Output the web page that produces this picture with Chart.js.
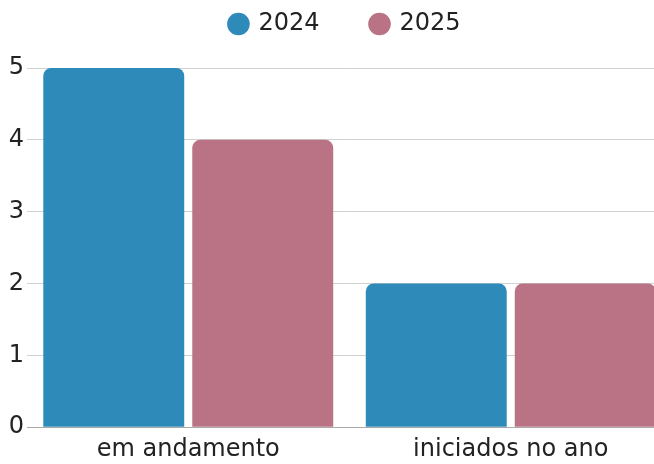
<!DOCTYPE html>
<html>
<head>
<meta charset="utf-8">
<script src="https://cdn.jsdelivr.net/npm/chart.js@4"></script>
<style>
  html, body { margin: 0; padding: 0; background: #fff; overflow: hidden; }
  #wrap { width: 672px; height: 464px; }
</style>
</head>
<body>
<div id="wrap"><canvas id="barChart" width="672" height="464"></canvas></div>
<script>
const categories = ['em andamento', 'iniciados no ano'];
const values2024 = [5, 2];
const values2025 = [4, 2];
const yTicks = [0, 1, 2, 3, 4, 5];

// push the plot down below the legend, nudge the legend right
const legendSpacing = {
    id: 'legendSpacing',
    beforeInit(chart) {
        const fit = chart.legend.fit;
        chart.legend.fit = function () {
            fit.call(this);
            this.height = 108;
        };
    },
    afterLayout(chart) {
        chart.legend.left += 19;
    }
};

document.addEventListener('DOMContentLoaded', () => {
    renderChart();
});

function renderChart() {
    const ctx = document.getElementById('barChart').getContext('2d');
    Chart.defaults.font.family = '"DejaVu Sans", sans-serif';
    Chart.defaults.color = '#222';
    new Chart(ctx, {
        type: 'bar',
        data: {
            labels: categories,
            datasets: [{
                label: '2024',
                data: values2024,
                backgroundColor: '#2E8BB9',
                borderRadius: 8,
                categoryPercentage: 0.924,
                barPercentage: 0.946
            }, {
                label: '2025',
                data: values2025,
                backgroundColor: '#B97384',
                borderRadius: 8,
                categoryPercentage: 0.924,
                barPercentage: 0.946
            }]
        },
        options: {
            responsive: false,
            animation: false,
            layout: { padding: { top: -40, right: 0, left: 0, bottom: -8 } },
            plugins: {
                legend: {
                    position: 'top',
                    labels: {
                        usePointStyle: true,
                        pointStyle: 'circle',
                        boxWidth: 16,
                        boxHeight: 16,
                        padding: 52,
                        font: { size: 24 }
                    }
                },
                tooltip: { enabled: false }
            },
            scales: {
                x: {
                    grid: { display: false, drawTicks: false },
                    border: { display: true, color: '#aaa' },
                    ticks: { font: { size: 24 }, padding: 8 }
                },
                y: {
                    min: yTicks[0],
                    max: yTicks[yTicks.length - 1],
                    afterBuildTicks: axis => { axis.ticks = yTicks.map(v => ({ value: v })); },
                    afterFit: axis => { axis.width = 27; },
                    grid: { color: '#d0d0d0', drawTicks: false },
                    border: { display: false },
                    ticks: { font: { size: 24 }, padding: 3 }
                }
            }
        },
        plugins: [legendSpacing]
    });
}
</script>
</body>
</html>
